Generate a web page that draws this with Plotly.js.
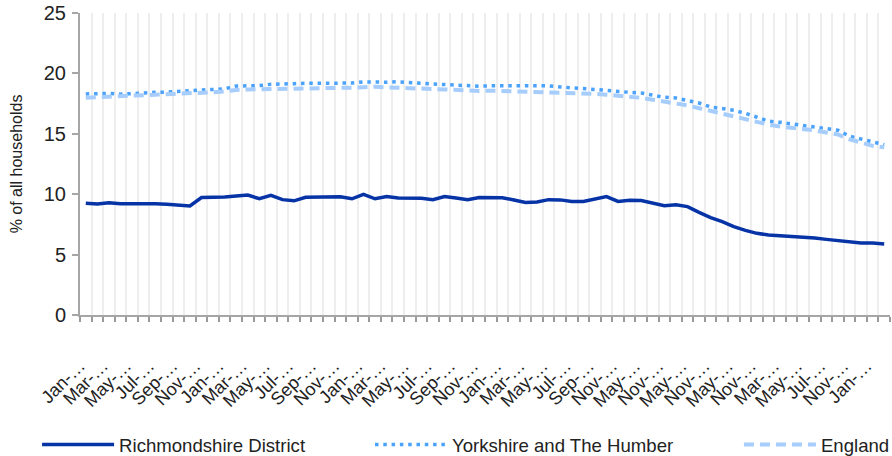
<!DOCTYPE html>
<html><head><meta charset="utf-8">
<script src="https://cdn.plot.ly/plotly-3.0.1.min.js"></script>
<style>html,body{margin:0;padding:0;background:#fff}#chart{width:892px;height:456px}</style>
</head><body><div id="chart"></div>
<script>
const categories = [
 "Jan-2015","Feb-2015","Mar-2015","Apr-2015","May-2015","Jun-2015","Jul-2015","Aug-2015","Sep-2015","Oct-2015","Nov-2015","Dec-2015",
 "Jan-2016","Feb-2016","Mar-2016","Apr-2016","May-2016","Jun-2016","Jul-2016","Aug-2016","Sep-2016","Oct-2016","Nov-2016","Dec-2016",
 "Jan-2017","Feb-2017","Mar-2017","Apr-2017","May-2017","Jun-2017","Jul-2017","Aug-2017","Sep-2017","Oct-2017","Nov-2017","Dec-2017",
 "Jan-2018","Feb-2018","Mar-2018","Apr-2018","May-2018","Jun-2018","Jul-2018","Aug-2018","Sep-2018","Oct-2018","Nov-2018","Dec-2018",
 "May-2019","Aug-2019","Nov-2019","Feb-2020","May-2020","Aug-2020","Nov-2020","Feb-2021","May-2021","Aug-2021","Nov-2021",
 "Feb-2022","Mar-2022","Apr-2022","May-2022","Jun-2022","Jul-2022","Sep-2022","Nov-2022","Dec-2022","Jan-2023","Feb-2023"
];
const richmondshire = [
 9.25,9.18,9.30,9.20,9.20,9.22,9.20,9.17,9.12,9.03,9.72,9.72,
 9.77,9.85,9.93,9.62,9.90,9.55,9.45,9.75,9.78,9.77,9.78,9.62,
 9.99,9.62,9.80,9.68,9.68,9.66,9.55,9.80,9.68,9.55,9.72,9.71,
 9.71,9.52,9.32,9.35,9.55,9.53,9.40,9.40,9.60,9.80,9.40,9.50,
 9.48,9.27,9.05,9.12,8.97,8.50,8.06,7.73,7.31,7.01,6.76,
 6.62,6.57,6.48,6.48,6.37,6.26,6.18,6.07,5.96,5.96,5.88
];
const yorkshire = [
 18.30,18.35,18.35,18.28,18.33,18.43,18.43,18.45,18.54,18.56,18.63,18.68,
 18.72,18.95,18.98,18.99,19.10,19.10,19.15,19.18,19.18,19.18,19.18,19.20,
 19.30,19.27,19.27,19.31,19.28,19.18,19.12,19.07,19.04,18.98,18.94,18.97,
 18.96,18.98,18.96,18.97,18.97,18.88,18.82,18.75,18.65,18.60,18.50,18.43,
 18.38,18.20,18.02,17.97,17.78,17.55,17.22,17.05,16.95,16.70,16.40,
 16.05,15.95,15.82,15.68,15.55,15.42,15.30,14.80,14.55,14.35,14.10
];
const england = [
 17.99,18.05,18.07,18.12,18.16,18.20,18.21,18.27,18.33,18.35,18.37,18.43,
 18.50,18.63,18.67,18.68,18.70,18.73,18.76,18.77,18.77,18.77,18.78,18.82,
 18.86,18.90,18.84,18.82,18.82,18.72,18.71,18.67,18.63,18.56,18.55,18.57,
 18.54,18.52,18.49,18.49,18.49,18.46,18.42,18.36,18.30,18.24,18.16,18.08,
 17.98,17.82,17.68,17.55,17.35,17.12,16.88,16.70,16.42,16.20,16.00,
 15.76,15.60,15.50,15.42,15.28,15.10,14.95,14.55,14.25,14.00,13.88
];
const seriesNames = ["Richmondshire District","Yorkshire and The Humber","England"];
const tickLabels = categories.map((c, i) => i % 2 === 0 ? c.split('-')[0] + '-…' : '');

const FONT = 'Liberation Sans, Arial, Helvetica, sans-serif';
const traces = [
  {x: categories, y: richmondshire, name: seriesNames[0], type: 'scatter', mode: 'lines', legend: 'legend',
   line: {color: '#0633a6', width: 3.5}},
  {x: categories, y: yorkshire, name: seriesNames[1], type: 'scatter', mode: 'lines', legend: 'legend2',
   line: {color: '#4aa2fb', width: 3.5, dash: '3.5px,4.8px'}},
  {x: categories, y: england, name: seriesNames[2], type: 'scatter', mode: 'lines', legend: 'legend3',
   line: {color: '#a6cdfb', width: 4, dash: '10px,6px'}}
];
const legendBase = {
  orientation: 'h', xanchor: 'left', y: -0.3675, yanchor: 'top', itemwidth: 72,
  font: {size: 18.6, family: FONT, color: '#222'}, bgcolor: 'rgba(0,0,0,0)'
};
const layout = {
  width: 892, height: 456,
  margin: {l: 80, r: 2, t: 13, b: 141, pad: 0, autoexpand: false},
  paper_bgcolor: '#ffffff', plot_bgcolor: '#ffffff',
  font: {family: FONT, color: '#222222', size: 18},
  xaxis: {
    type: 'category', tickmode: 'array', tickvals: categories, ticktext: tickLabels,
    tickson: 'boundaries', ticks: 'outside', ticklen: 5, tickwidth: 2, tickcolor: '#9a9a9a',
    showgrid: true, gridcolor: '#eeeeee', gridwidth: 2,
    showline: true, linecolor: '#a6a6a6', linewidth: 2, automargin: false,
    tickangle: -45, tickfont: {size: 18, family: FONT, color: '#222'},
    ticklabelstandoff: 31, ticklabelshift: -6, range: [-0.5, categories.length - 0.5], zeroline: false
  },
  yaxis: {
    range: [0, 25], tickmode: 'linear', tick0: 0, dtick: 5, showgrid: false,
    showline: true, linecolor: '#a6a6a6', linewidth: 2, automargin: false,
    ticks: 'outside', ticklen: 6, tickwidth: 2, tickcolor: '#a6a6a6',
    tickfont: {size: 20, family: FONT, color: '#222'}, zeroline: false, ticklabelstandoff: 2,
    title: {text: '% of all households', font: {size: 16, family: FONT, color: '#222'}, standoff: 17}
  },
  showlegend: true,
  legend: Object.assign({}, legendBase, {x: -0.053}),
  legend2: Object.assign({}, legendBase, {x: 0.358}),
  legend3: Object.assign({}, legendBase, {x: 0.8135})
};
Plotly.newPlot('chart', traces, layout, {displayModeBar: false, staticPlot: true});
</script></body></html>
